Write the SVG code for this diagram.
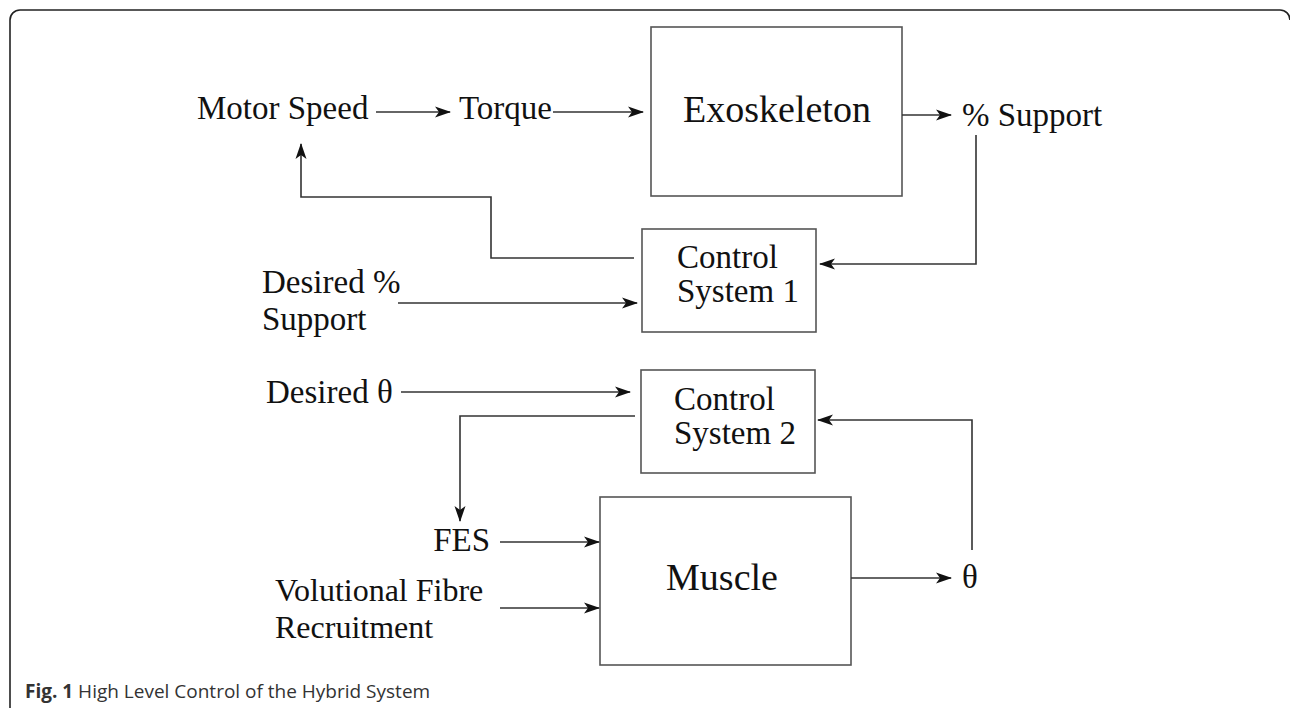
<svg xmlns="http://www.w3.org/2000/svg" width="1290" height="708" viewBox="0 0 1290 708">
<style>
.box{fill:#fff;stroke:#555;stroke-width:1.6}
.lbl{font-family:"Liberation Serif",serif;font-size:33px;fill:#111}
.big{font-family:"Liberation Serif",serif;font-size:38px;fill:#111}
.conn{fill:none;stroke:#333;stroke-width:1.6}
.frame{fill:none;stroke:#222;stroke-width:1.6}
.cap{font-family:"Open Sans",sans-serif;font-size:19px;fill:#333}
</style>
<defs>
<marker id="ah" markerUnits="userSpaceOnUse" markerWidth="16" markerHeight="12" refX="15" refY="6" orient="auto">
<path d="M0,0.5 L16,6 L0,11.5 L4,6 z" fill="#111"/>
</marker>
</defs>
<rect width="1290" height="708" fill="#fff"/>
<path class="frame" d="M10,708 V20 A10,10 0 0 1 20,10 H1280 A10,10 0 0 1 1290,20"/>

<g id="exoskeleton">
<rect class="box" x="651" y="27" width="251" height="169"/>
<text class="big" x="777" y="122" text-anchor="middle">Exoskeleton</text>
</g>
<g id="control1">
<rect class="box" x="642" y="229" width="174" height="103"/>
<text class="lbl"><tspan x="677" y="268">Control</tspan><tspan x="677" y="302">System 1</tspan></text>
</g>
<g id="control2">
<rect class="box" x="641" y="370" width="174" height="103"/>
<text class="lbl"><tspan x="674" y="410">Control</tspan><tspan x="674" y="444">System 2</tspan></text>
</g>
<g id="muscle">
<rect class="box" x="600" y="497" width="251" height="168"/>
<text class="big" x="722" y="590" text-anchor="middle">Muscle</text>
</g>
<g id="labels">
<text class="lbl" x="197" y="119">Motor Speed</text>
<text class="lbl" x="459" y="119">Torque</text>
<text class="lbl" x="962" y="126">% Support</text>
<text class="lbl"><tspan x="262" y="293">Desired %</tspan><tspan x="262" y="330">Support</tspan></text>
<text class="lbl" x="266" y="403">Desired θ</text>
<text class="lbl" x="490" y="551" text-anchor="end">FES</text>
<text class="lbl" style="font-size:32px"><tspan x="275" y="601">Volutional Fibre</tspan><tspan x="275" y="638">Recruitment</tspan></text>
<text class="lbl" x="962" y="588">θ</text>
</g>
<g id="connectors">
<path class="conn" marker-end="url(#ah)" d="M376,112 H450"/>
<path class="conn" marker-end="url(#ah)" d="M553,112 H643"/>
<path class="conn" marker-end="url(#ah)" d="M902,115 H951"/>
<path class="conn" marker-end="url(#ah)" d="M976,135 V264 H820"/>
<path class="conn" marker-end="url(#ah)" d="M634,258 H491 V197 H301 V144"/>
<path class="conn" marker-end="url(#ah)" d="M398,303 H637"/>
<path class="conn" marker-end="url(#ah)" d="M401,392 H630"/>
<path class="conn" marker-end="url(#ah)" d="M635,416 H460 V521"/>
<path class="conn" marker-end="url(#ah)" d="M972,550 V420 H818"/>
<path class="conn" marker-end="url(#ah)" d="M500,542 H599"/>
<path class="conn" marker-end="url(#ah)" d="M500,608 H599"/>
<path class="conn" marker-end="url(#ah)" d="M851,578 H951"/>
</g>
<g id="caption">
<text class="cap" x="25" y="698"><tspan font-weight="bold">Fig. 1</tspan> High Level Control of the Hybrid System</text>
</g>
</svg>
